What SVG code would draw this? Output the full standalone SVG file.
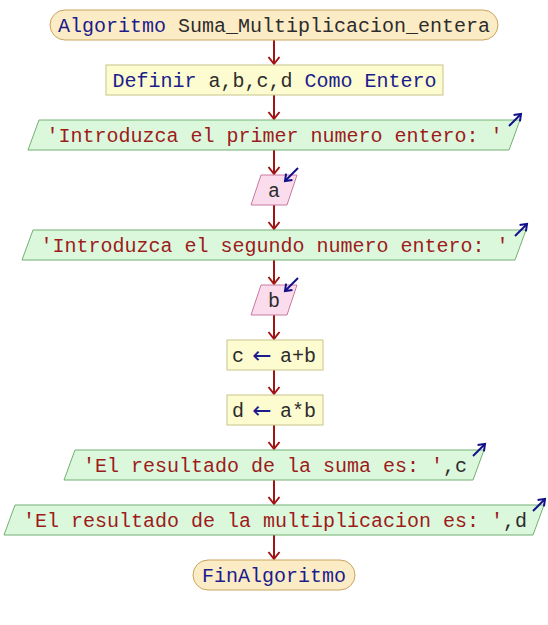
<svg xmlns="http://www.w3.org/2000/svg" width="548" height="625" viewBox="0 0 548 625">
<defs>
<marker id="ah" markerUnits="userSpaceOnUse" markerWidth="14" markerHeight="14" viewBox="-10 -7 12 14" refX="0" refY="0" orient="auto">
<path d="M-7,-5.5 L0,0 L-7,5.5" fill="none" stroke="#a01414" stroke-width="2"/>
</marker>
<marker id="io" markerUnits="userSpaceOnUse" markerWidth="12" markerHeight="12" viewBox="-9 -6 11 12" refX="0" refY="0" orient="auto">
<path d="M-6,-4.5 L0,0 L-6,4.5" fill="none" stroke="#10108a" stroke-width="2"/>
</marker>
<style>
.term{fill:#fcecc6;stroke:#c9a45e;stroke-width:1}
.proc{fill:#fdfcd0;stroke:#c8c48a;stroke-width:1}
.out{fill:#dcf8dc;stroke:#72b072;stroke-width:1}
.inp{fill:#fbdcec;stroke:#c87aa0;stroke-width:1}
text{font-family:"Liberation Mono","DejaVu Sans Mono",monospace;font-size:20px;text-anchor:middle;fill:#2c2c2c}
.kw{fill:#1c1c8c}
.st{text-anchor:start}
.arr{fill:#1c1c8c;font-family:"DejaVu Sans",sans-serif;font-size:23px}
.str{fill:#9c1c1c}
.conn line{stroke:#a01414;stroke-width:2;marker-end:url(#ah)}
.ioa{stroke:#10108a;stroke-width:2;marker-end:url(#io)}
</style>
</defs>

<g id="conn" class="conn">
<line x1="274" y1="40" x2="274" y2="64"/>
<line x1="274" y1="95" x2="274" y2="119"/>
<line x1="274" y1="150" x2="274" y2="174"/>
<line x1="274" y1="205" x2="274" y2="229"/>
<line x1="274" y1="260" x2="274" y2="284"/>
<line x1="274" y1="315" x2="274" y2="339"/>
<line x1="274" y1="370" x2="274" y2="394"/>
<line x1="274" y1="425" x2="274" y2="449"/>
<line x1="274" y1="480" x2="274" y2="504"/>
<line x1="274" y1="535" x2="274" y2="559"/>
</g>

<g id="start">
<rect class="term" x="50" y="10" width="448" height="30" rx="15" ry="15"/>
<text x="274" y="32"><tspan class="kw">Algoritmo</tspan> Suma_Multiplicacion_entera</text>
</g>

<g id="definir">
<rect class="proc" x="106" y="65" width="337" height="30"/>
<text x="274.5" y="87"><tspan class="kw">Definir</tspan> a,b,c,d <tspan class="kw">Como Entero</tspan></text>
</g>

<g id="out1">
<polygon class="out" points="39,120 520,120 509,150 28,150"/>
<text x="274.5" y="142" class="str">'Introduzca el primer numero entero: '</text>
<line class="ioa" x1="509" y1="126" x2="521" y2="114"/>
</g>

<g id="in_a">
<polygon class="inp" points="261,175 297,175 287,205 251,205"/>
<text x="274" y="197">a</text>
<line class="ioa" x1="298" y1="168" x2="285" y2="181"/>
</g>

<g id="out2">
<polygon class="out" points="33,230 526,230 515,260 22,260"/>
<text x="274.5" y="252" class="str">'Introduzca el segundo numero entero: '</text>
<line class="ioa" x1="515" y1="236" x2="527" y2="224"/>
</g>

<g id="in_b">
<polygon class="inp" points="261,285 297,285 287,315 251,315"/>
<text x="274" y="307">b</text>
<line class="ioa" x1="298" y1="278" x2="285" y2="291"/>
</g>

<g id="asig_c">
<rect class="proc" x="227" y="340" width="96" height="30"/>
<text class="st" x="232" y="362">c</text>
<text class="arr" x="262" y="363">←</text>
<text class="st" x="280" y="362">a+b</text>
</g>

<g id="asig_d">
<rect class="proc" x="227" y="395" width="96" height="30"/>
<text class="st" x="232" y="417">d</text>
<text class="arr" x="262" y="418">←</text>
<text class="st" x="280" y="417">a*b</text>
</g>

<g id="out3">
<polygon class="out" points="75,450 484,450 473,480 64,480"/>
<text x="275" y="472"><tspan class="str">'El resultado de la suma es: '</tspan>,c</text>
<line class="ioa" x1="473" y1="456" x2="485" y2="444"/>
</g>

<g id="out4">
<polygon class="out" points="15,505 544,505 533,535 4,535"/>
<text x="275" y="527"><tspan class="str">'El resultado de la multiplicacion es: '</tspan>,d</text>
<line class="ioa" x1="533" y1="511" x2="545" y2="499"/>
</g>

<g id="end">
<rect class="term" x="193" y="560" width="162" height="30" rx="15" ry="15"/>
<text x="274" y="582" class="kw">FinAlgoritmo</text>
</g>
</svg>
